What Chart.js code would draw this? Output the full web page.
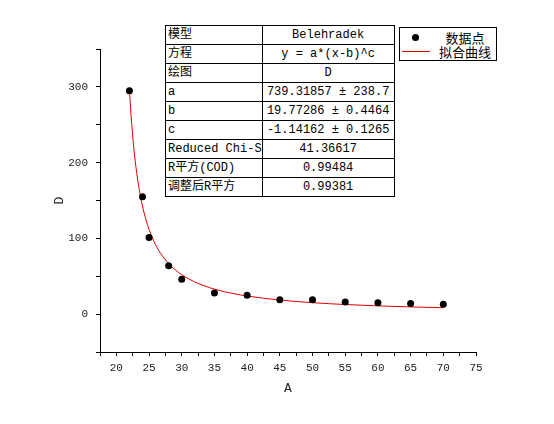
<!DOCTYPE html>
<html>
<head>
<meta charset="utf-8">
<script src="https://cdn.jsdelivr.net/npm/chart.js@4"></script>
<style>
  html, body { margin: 0; padding: 0; background: #fff; }
  #wrap { position: relative; width: 554px; height: 424px; }
  #c { position: absolute; left: 0; top: 0; }
  #tbl { position: absolute; left: 165px; top: 25px; border-collapse: collapse; table-layout: fixed; background: #fff;
         font-family: "Liberation Mono", "Noto Sans CJK SC", monospace; font-size: 12px; color: #000; }
  #tbl td { border: 1px solid #000; height: 18px; line-height: 16px; padding: 0; white-space: nowrap; overflow: hidden; box-sizing: border-box; }
  #tbl tr { height: 19px; }
  #tbl td.k { padding-left: 2px; text-align: left; width: 96px; }
  #tbl td.v { text-align: center; width: 132px; }
  #leg { position: absolute; left: 399px; top: 27px; width: 96px; height: 32px; border: 1px solid #000; background: #fff;
         font-family: "Noto Sans CJK SC", sans-serif; font-size: 13px; color: #000; }
  #leg .dot { position: absolute; left: 12px; top: 6px; width: 7px; height: 7px; border-radius: 50%; background: #000; }
  #leg .ln { position: absolute; left: 2px; top: 23px; width: 28px; height: 1px; background: #e00000; }
  #leg .t { position: absolute; left: 35px; width: 60px; text-align: center; line-height: 14px; }
</style>
</head>
<body>
<div id="wrap">
  <canvas id="c" width="554" height="424"></canvas>
  <table id="tbl">
    <colgroup><col style="width:96px"><col style="width:132px"></colgroup>
    <tr><td class="k">模型</td><td class="v">Belehradek</td></tr>
    <tr><td class="k">方程</td><td class="v">y = a*(x-b)^c</td></tr>
    <tr><td class="k">绘图</td><td class="v">D</td></tr>
    <tr><td class="k">a</td><td class="v">739.31857 ± 238.7</td></tr>
    <tr><td class="k">b</td><td class="v">19.77286 ± 0.4464</td></tr>
    <tr><td class="k">c</td><td class="v">-1.14162 ± 0.1265</td></tr>
    <tr><td class="k">Reduced Chi-S</td><td class="v">41.36617</td></tr>
    <tr><td class="k">R平方(COD)</td><td class="v">0.99484</td></tr>
    <tr><td class="k">调整后R平方</td><td class="v">0.99381</td></tr>
  </table>
  <div id="leg">
    <div class="dot"></div>
    <div class="t" style="top:3px">数据点</div>
    <div class="ln"></div>
    <div class="t" style="top:17px">拟合曲线</div>
  </div>
</div>
<script>
// Measured data points (A, D)
const dataX = [22, 24, 25, 28, 30, 35, 40, 45, 50, 55, 60, 65, 70];
const dataY = [295, 155, 101, 64, 46, 28, 25, 19, 19, 16, 15, 14, 13];

// Fitted curve as drawn (Belehradek fit)
const fitX = [22, 22.25, 22.5, 22.75, 23, 23.25, 23.5, 24, 24.5, 25, 26, 27, 28, 29, 30, 32, 35, 38, 40, 45, 50, 55, 60, 65, 70];
const fitY = [296.4, 262.5, 235.2, 212.8, 194.1, 178.2, 164.6, 142.6, 125.5, 111.9, 91.6, 77.3, 66.7, 58.5, 52.0, 42.4, 33.0, 26.9, 23.9, 18.6, 15.1, 12.7, 10.9, 9.5, 8.45];

const xLabelsEvery = 5;
const yLabelsEvery = 100;

const pts = dataX.map((x, i) => ({ x: x, y: dataY[i] }));
const fit = fitX.map((x, i) => ({ x: x, y: fitY[i] }));

const tickFont = { family: "Liberation Mono", size: 11 };
const titleFont = { family: "Liberation Mono", size: 13 };

new Chart(document.getElementById('c'), {
  type: 'scatter',
  data: {
    datasets: [
      { label: '拟合曲线', data: fit, showLine: true, borderColor: '#e00000', borderWidth: 1,
        pointRadius: 0, fill: false, cubicInterpolationMode: 'monotone', order: 2 },
      { label: '数据点', data: pts, showLine: false, backgroundColor: '#000', borderColor: '#000',
        pointRadius: 3.5, pointBorderWidth: 0, order: 1 }
    ]
  },
  options: {
    responsive: false,
    animation: false,
    layout: { padding: { top: 49, right: 78, bottom: 0, left: 0 } },
    plugins: { legend: { display: false }, tooltip: { enabled: false } },
    scales: {
      x: {
        type: 'linear', min: 17.5, max: 75,
        afterFit: s => { s.height = 72; },
        border: { display: true, color: '#000', width: 1 },
        grid: { drawOnChartArea: false, drawTicks: true, tickLength: 4, color: '#000' },
        ticks: { stepSize: 2.5, autoSkip: false, maxRotation: 0, padding: 5, color: '#222', font: tickFont,
                 callback: v => (Math.abs(v % xLabelsEvery) < 1e-9 ? String(v) : '') },
        title: { display: true, text: 'A', color: '#222', font: titleFont, padding: { top: 0, bottom: 28 } }
      },
      y: {
        type: 'linear', min: -50, max: 350,
        afterFit: s => { s.width = 100; },
        border: { display: true, color: '#000', width: 1 },
        grid: { drawOnChartArea: false, drawTicks: true, tickLength: 4, color: '#000' },
        ticks: { stepSize: 50, autoSkip: false, padding: 8, color: '#222', font: tickFont,
                 callback: v => (Math.abs(v % yLabelsEvery) < 1e-9 ? String(v) : '') },
        title: { display: true, text: 'D', color: '#222', font: titleFont, padding: { top: 52, bottom: 0 } }
      }
    }
  }
});
</script>
</body>
</html>
